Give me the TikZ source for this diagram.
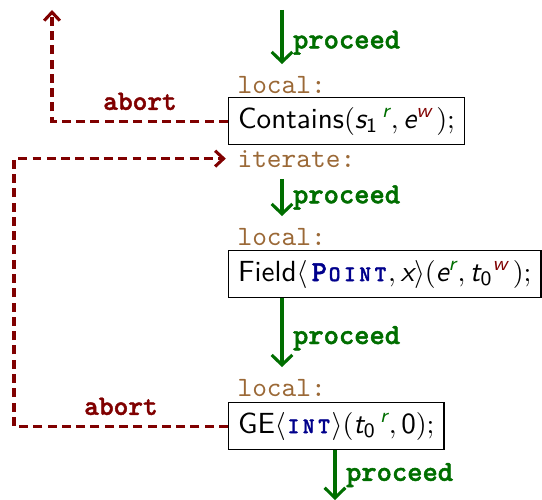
\documentclass[tikz,border=0pt]{standalone}
\usepackage{amsmath}
\usepackage{fontspec}
\usetikzlibrary{arrows.meta}

% heavy typewriter face for edge labels and type names
\newfontfamily\ttheavy[FakeBold=1.6]{lmmonolt10-bold.otf}

\definecolor{okgreen}{RGB}{0,110,0}
\definecolor{failred}{RGB}{128,0,0}
\definecolor{tagbrown}{RGB}{155,105,55}
\definecolor{typeblue}{RGB}{0,0,140}

% sans italic variables, typewriter small caps type names
\newcommand\vv[1]{\text{\sffamily\itshape #1}}
\newcommand\scl[1]{\makebox[0.525em]{\fontsize{7.9}{8}\selectfont #1}}
\newcommand\tyname[1]{\textcolor{typeblue}{\ttheavy #1}}
\newcommand\readmark{\textcolor{okgreen}{\vv{r}}}
\newcommand\writemark{\textcolor{failred}{\vv{w}}}

\tikzset{
  x=0.357pt, y=-0.357pt,
  stmt/.style={draw, line width=0.4pt, inner sep=3.4pt,
    font=\fontsize{10.4}{12}\sffamily, anchor=north west},
  tag/.style={inner sep=0pt, anchor=base west, text=tagbrown, font=\ttfamily},
  go/.style={draw=okgreen, line width=1.1pt,
    -{Straight Barb[length=3.6pt,width=7.4pt,line width=1.1pt]}},
  golabel/.style={text=okgreen, font=\fontsize{10.4}{12}\ttheavy, right, inner sep=3.4pt},
  ab/.style={draw=failred, line width=1.1pt, dash pattern=on 3.2pt off 1.9pt,
    -{Straight Barb[length=3pt,width=5.6pt,line width=1.1pt]}},
  ablabel/.style={text=failred, font=\ttheavy, above, inner sep=3.4pt},
}

\begin{document}
\begin{tikzpicture}
\useasboundingbox (0,0) rectangle (542,500);

% columns and free ends
\coordinate (colA) at (282,0);
\coordinate (colB) at (335,0);
\coordinate (railL) at (14,0);
\coordinate (entry) at (282,10);
\coordinate (exit) at (335,500);
\coordinate (escape) at (52,10);

% statements and their tags
\node[tag] (l1) at (237,93) {local:};
\node[stmt] (c1) at (228,97) {Contains$({\vv{s}_{\textsf{1}}}^{\,\readmark}, \vv{e}^{\writemark\,});$};
\node[tag] (it) at (237,167) {iterate:};
\node[tag] (l2) at (237,245) {local:};
\node[stmt] (c2) at (228,250) {Field$\langle$\kern1.5pt\tyname{P\scl{O}\scl{I}\scl{N}\scl{T}}$, \vv{x}\rangle(\vv{e}^{\readmark}, {\vv{t}_{\textsf{0}}}^{\writemark\,});$};
\node[tag] (l3) at (237,396) {local:};
\node[stmt] (c3) at (228,402) {GE$\langle$\tyname{\scl{I}\scl{N}\scl{T}}$\rangle({\vv{t}_{\textsf{0}}}^{\,\readmark}, \textsf{0});$};

% normal flow
\draw[go, shorten >=4pt] (entry) -- node[golabel] {proceed} (l1.north -| colA);
\draw[go, shorten <=4pt, shorten >=4pt] (it.south -| colA) -- node[golabel] {proceed} (l2.north -| colA);
\draw[go, shorten >=4pt] (c2.south -| colA) -- node[golabel] {proceed} (l3.north -| colA);
\draw[go] (c3.south -| colB) -- node[golabel] {proceed} (exit);

% abort paths
\draw[ab] (c1.west) -| node[ablabel, pos=0.25] {abort} (escape);
\draw[ab, shorten >=4pt] (c3.west) -- node[ablabel] {abort} (c3.west -| railL) |- (it.west);
\end{tikzpicture}
\end{document}
